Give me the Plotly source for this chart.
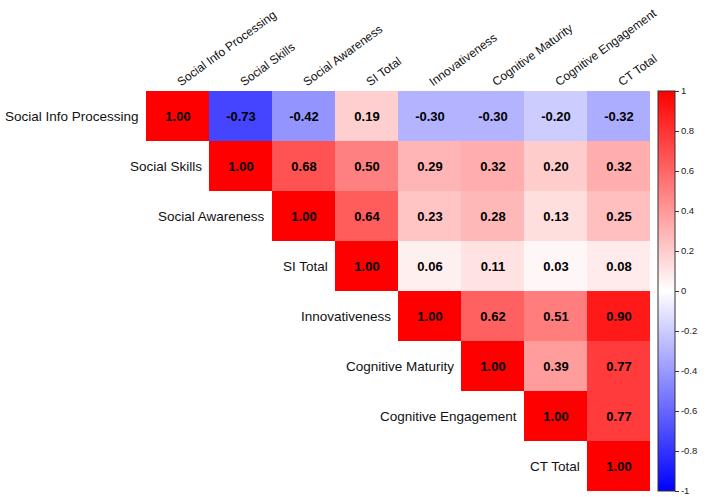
import plotly.graph_objects as go

labels = ["Social Info Processing", "Social Skills", "Social Awareness", "SI Total",
          "Innovativeness", "Cognitive Maturity", "Cognitive Engagement", "CT Total"]

# upper triangle rows (starting at the diagonal)
row1 = [1.00, -0.73, -0.42, 0.19, -0.30, -0.30, -0.20, -0.32]
row2 = [1.00, 0.68, 0.50, 0.29, 0.32, 0.20, 0.32]
row3 = [1.00, 0.64, 0.23, 0.28, 0.13, 0.25]
row4 = [1.00, 0.06, 0.11, 0.03, 0.08]
row5 = [1.00, 0.62, 0.51, 0.90]
row6 = [1.00, 0.39, 0.77]
row7 = [1.00, 0.77]
row8 = [1.00]
rows = [row1, row2, row3, row4, row5, row6, row7, row8]

cbar_ticks = [-1, -0.8, -0.6, -0.4, -0.2, 0, 0.2, 0.4, 0.6, 0.8, 1]

n = len(labels)
z = []
txt = []
for i, r in enumerate(rows):
    zr = [None] * i + list(r)
    z.append(zr)
    txt.append(["" if v is None else f"{v:.2f}" for v in zr])

FONT = "Liberation Sans, Arial, sans-serif"

fig = go.Figure(go.Heatmap(
    z=z, x=list(range(n)), y=list(range(n)),
    text=txt, texttemplate="<b>%{text}</b>",
    textfont=dict(family=FONT, size=13, color="black"),
    zmin=-1, zmax=1,
    colorscale=[[0, "rgb(0,0,255)"], [0.5, "rgb(255,255,255)"], [1, "rgb(255,0,0)"]],
    hoverongaps=False,
    colorbar=dict(
        x=1 + 8 / 504, xanchor="left", xpad=0, y=0.5, yanchor="middle",
        len=1.0, lenmode="fraction", thickness=17, ypad=0,
        outlinecolor="#333", outlinewidth=1,
        tickvals=cbar_ticks, ticktext=[f"{t:g}" for t in cbar_ticks],
        ticks="outside", ticklen=4, tickcolor="#333",
        tickfont=dict(family=FONT, size=9.5, color="#222"),
    ),
))

for i, lab in enumerate(labels):
    fig.add_annotation(x=i - 0.5, y=i, xref="x", yref="y", text=lab,
                       showarrow=False, xanchor="right", yanchor="middle", xshift=-5,
                       font=dict(family=FONT, size=13.5, color="#111"))

fig.update_layout(
    width=709, height=497,
    margin=dict(l=146, r=59, t=86, b=6),
    paper_bgcolor="white", plot_bgcolor="white",
    xaxis=dict(range=[-0.5, n - 0.5], side="top", tickvals=list(range(n)), ticktext=labels,
               tickangle=-36, showgrid=False, zeroline=False, showline=False, ticks="",
               tickfont=dict(family=FONT, size=12, color="#111")),
    yaxis=dict(range=[n - 0.5, -0.5], showticklabels=False, showgrid=False,
               zeroline=False, showline=False, ticks=""),
)

fig.write_html("out.html")
